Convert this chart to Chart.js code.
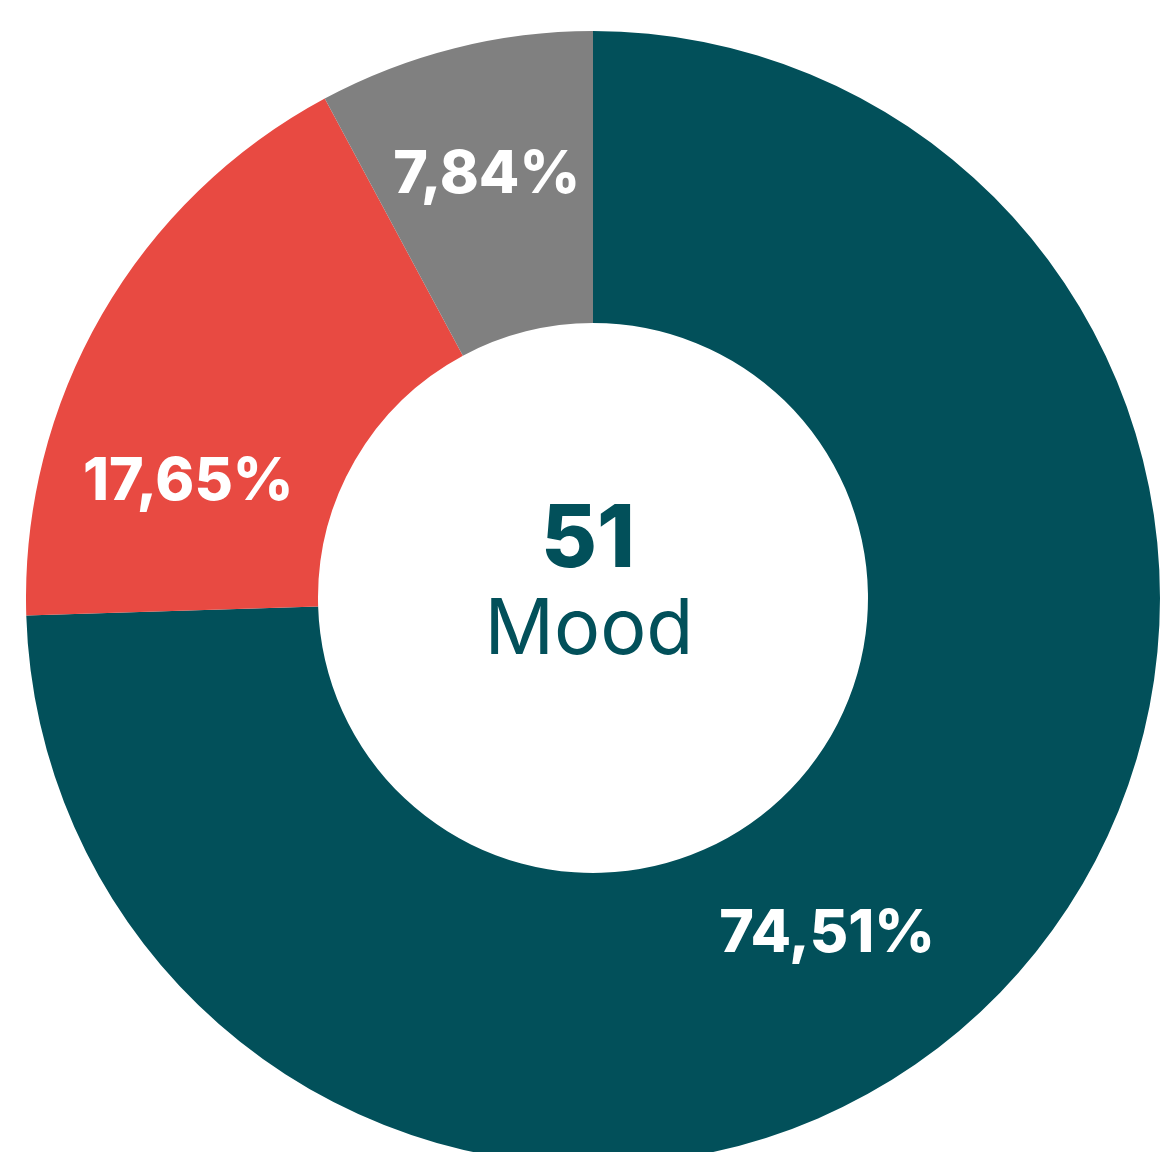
<!DOCTYPE html>
<html>
<head>
<meta charset="utf-8">
<script src="https://cdn.jsdelivr.net/npm/chart.js@4.4.0/dist/chart.umd.min.js"></script>
<style>
    html, body { margin: 0; padding: 0; background: #ffffff; overflow: hidden; width: 1163px; height: 1152px; }
    #wrap { position: absolute; left: 26px; top: 31px; width: 1134px; height: 1134px; }
</style>
</head>
<body>
<div id="wrap"><canvas id="moodChart"></canvas></div>
<script>
const categories = ['Positive', 'Negative', 'Neutral'];
const counts = [38, 9, 4];
const percentLabels = ['74,51%', '17,65%', '7,84%'];
const sliceColors = ['#02505A', '#E84A42', '#808080'];
const totalLabel = '51';
const centerCaption = 'Mood';

// label placement tweaks (degrees along the arc, fraction across the ring)
const labelAngleShift = [11, -14, 0];
const labelRingPos = [0.46, 0.5, 0.55];

const labelPlugin = {
    id: 'sliceLabels',
    afterDatasetsDraw(chart) {
        const ctx = chart.ctx;
        const meta = chart.getDatasetMeta(0);
        ctx.save();
        ctx.fillStyle = '#ffffff';
        ctx.font = '800 59px Inter';
        ctx.textAlign = 'center';
        ctx.textBaseline = 'middle';
        meta.data.forEach((arc, i) => {
            const p = arc.getProps(['x', 'y', 'startAngle', 'endAngle', 'innerRadius', 'outerRadius'], true);
            const a = (p.startAngle + p.endAngle) / 2 + labelAngleShift[i] * Math.PI / 180;
            const r = p.innerRadius + (p.outerRadius - p.innerRadius) * labelRingPos[i];
            ctx.fillText(percentLabels[i], p.x + Math.cos(a) * r, p.y + Math.sin(a) * r);
        });

        const c = meta.data[0];
        ctx.fillStyle = '#02505A';
        ctx.font = '800 86px Inter';
        ctx.fillText(totalLabel, c.x - 5, c.y - 57);
        ctx.font = '400 77px Inter';
        ctx.fillText(centerCaption, c.x - 4, c.y + 33);
        ctx.restore();
    }
};

new Chart(document.getElementById('moodChart'), {
    type: 'doughnut',
    data: {
        labels: categories,
        datasets: [{
            data: counts,
            backgroundColor: sliceColors,
            borderWidth: 0
        }]
    },
    options: {
        responsive: true,
        maintainAspectRatio: false,
        animation: false,
        cutout: '48.5%',
        layout: { padding: 0 },
        plugins: {
            legend: { display: false },
            tooltip: { enabled: false }
        }
    },
    plugins: [labelPlugin]
});
</script>
</body>
</html>
